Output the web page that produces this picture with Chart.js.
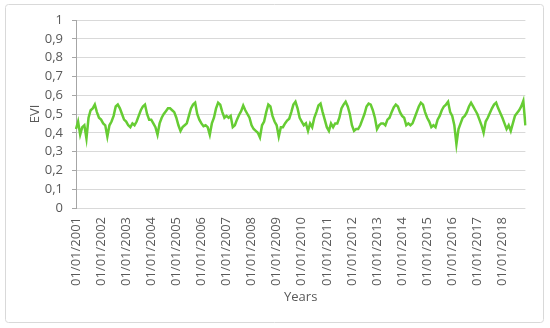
<!DOCTYPE html>
<html>
<head>
<meta charset="utf-8">
<script src="https://cdn.jsdelivr.net/npm/chart.js@4"></script>
<style>
  html, body { margin: 0; padding: 0; background: #fff; }
</style>
</head>
<body>
<canvas id="chart" width="550" height="328"></canvas>
<script>
// EVI, one value per month, 2001 - 2018
var years = [2001, 2002, 2003, 2004, 2005, 2006, 2007, 2008, 2009, 2010, 2011, 2012, 2013, 2014, 2015, 2016, 2017, 2018];
var months = ['01', '02', '03', '04', '05', '06', '07', '08', '09', '10', '11', '12'];
var evi = [
  0.42, 0.46, 0.39, 0.43, 0.44, 0.37, 0.48, 0.52, 0.53, 0.55, 0.51, 0.48,   // 2001
  0.47, 0.45, 0.44, 0.38, 0.44, 0.46, 0.49, 0.54, 0.55, 0.53, 0.50, 0.47,   // 2002
  0.46, 0.44, 0.43, 0.45, 0.44, 0.46, 0.49, 0.52, 0.54, 0.55, 0.50, 0.47,   // 2003
  0.47, 0.45, 0.43, 0.39, 0.45, 0.48, 0.50, 0.515, 0.53, 0.53, 0.52, 0.51,  // 2004
  0.48, 0.44, 0.41, 0.43, 0.44, 0.45, 0.49, 0.53, 0.55, 0.56, 0.50, 0.47,   // 2005
  0.45, 0.435, 0.44, 0.43, 0.39, 0.45, 0.48, 0.53, 0.56, 0.55, 0.51, 0.48,  // 2006
  0.49, 0.48, 0.49, 0.43, 0.44, 0.47, 0.495, 0.515, 0.545, 0.52, 0.50, 0.48, // 2007
  0.44, 0.42, 0.41, 0.40, 0.375, 0.44, 0.46, 0.51, 0.55, 0.54, 0.49, 0.46,  // 2008
  0.44, 0.38, 0.43, 0.43, 0.45, 0.465, 0.475, 0.51, 0.55, 0.565, 0.53, 0.48, // 2009
  0.46, 0.44, 0.45, 0.41, 0.45, 0.43, 0.48, 0.51, 0.545, 0.555, 0.51, 0.47, // 2010
  0.43, 0.41, 0.45, 0.43, 0.45, 0.45, 0.48, 0.53, 0.55, 0.565, 0.54, 0.50,  // 2011
  0.44, 0.41, 0.42, 0.42, 0.44, 0.47, 0.50, 0.54, 0.555, 0.55, 0.52, 0.48,  // 2012
  0.42, 0.44, 0.45, 0.45, 0.44, 0.47, 0.48, 0.51, 0.535, 0.55, 0.54, 0.51,  // 2013
  0.49, 0.48, 0.44, 0.45, 0.44, 0.45, 0.48, 0.51, 0.54, 0.56, 0.55, 0.51,   // 2014
  0.48, 0.46, 0.43, 0.44, 0.43, 0.47, 0.49, 0.52, 0.54, 0.55, 0.565, 0.51,  // 2015
  0.49, 0.44, 0.34, 0.42, 0.45, 0.48, 0.49, 0.51, 0.54, 0.56, 0.54, 0.52,   // 2016
  0.50, 0.47, 0.44, 0.40, 0.46, 0.48, 0.505, 0.53, 0.55, 0.56, 0.53, 0.505, // 2017
  0.48, 0.45, 0.42, 0.44, 0.41, 0.45, 0.49, 0.505, 0.52, 0.54, 0.57, 0.44   // 2018
];
var yTickLabels = ['0', '0,1', '0,2', '0,3', '0,4', '0,5', '0,6', '0,7', '0,8', '0,9', '1'];

var labels = [];
for (var i = 0; i < years.length; i++) {
  for (var j = 0; j < months.length; j++) labels.push('01/' + months[j] + '/' + years[i]);
}

var textColor = '#595959';
var font = { family: '"Open Sans", sans-serif', size: 13 };

// light frame round the whole chart
const frame = {
  id: 'frame',
  beforeDraw(chart) {
    const c = chart.ctx;
    c.save();
    c.strokeStyle = '#d9d9d9';
    c.lineWidth = 1;
    c.beginPath();
    c.roundRect(5.5, 4.5, 538, 318, 3);
    c.stroke();
    c.restore();
  }
};

const config = {
  type: 'line',
  data: {
    labels: labels,
    datasets: [{
      label: 'EVI',
      data: evi,
      borderColor: '#66cc33',
      borderWidth: 2.5,
      pointRadius: 0,
      tension: 0
    }]
  },
  options: {
    responsive: false,
    animation: false,
    layout: { padding: { top: 20, right: 23, left: 0, bottom: 0 } },
    plugins: { legend: { display: false }, tooltip: { enabled: false } },
    scales: {
      x: {
        type: 'category',
        grid: { display: false, drawTicks: false },
        border: { display: false },
        ticks: {
          autoSkip: false,
          maxRotation: 90,
          minRotation: 90,
          padding: 9,
          color: textColor,
          font: font,
          callback: function (val, idx) {
            var l = labels[idx];
            return l.substr(3, 2) === '01' ? l : '';
          }
        },
        title: { display: true, text: 'Years', color: textColor, font: font, padding: { top: 0, bottom: 23 } },
        afterFit: function (scale) { scale.height = 120; }
      },
      y: {
        min: 0,
        max: 1,
        grid: { color: '#d9d9d9', tickColor: '#a6a6a6', tickLength: 4 },
        border: { color: '#a6a6a6' },
        ticks: {
          stepSize: 0.1,
          padding: 9,
          color: textColor,
          font: font,
          callback: function (val, idx) { return yTickLabels[idx]; }
        },
        title: { display: true, text: 'EVI', color: textColor, font: font, padding: { top: 27, bottom: 0 } },
        afterFit: function (scale) { scale.width = 76; }
      }
    }
  },
  plugins: [frame]
};

const myChart = new Chart(document.getElementById('chart'), config);
</script>
</body>
</html>
